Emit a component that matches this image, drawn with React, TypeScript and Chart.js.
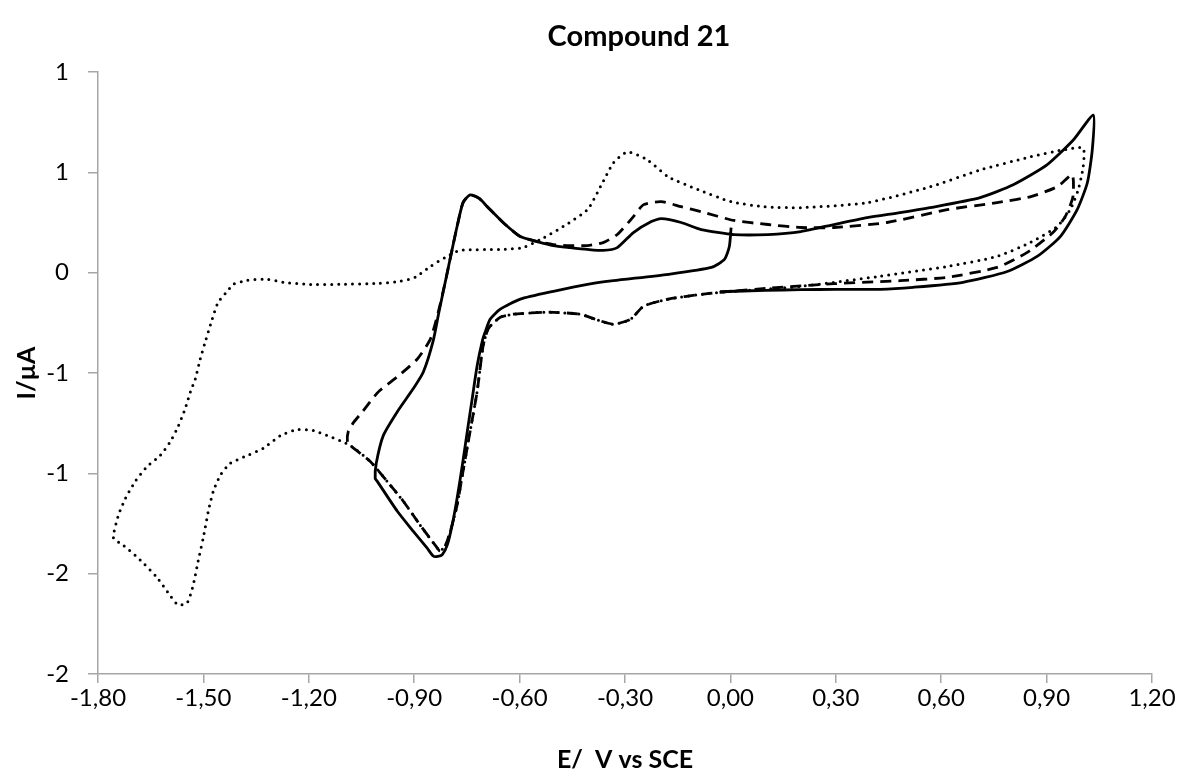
import React, { useEffect, useRef } from 'react';
import { Chart, registerables } from 'chart.js';

Chart.register(...registerables);

const TITLE = 'Compound 21';
const X_TITLE = 'E/  V vs SCE';
const Y_TITLE = 'I/µA';

const X_TICKS = [-1.8, -1.5, -1.2, -0.9, -0.6, -0.3, 0, 0.3, 0.6, 0.9, 1.2];
const Y_TICKS = [-2, -1.5, -1, -0.5, 0, 0.5, 1];
const Y_LABELS = ['-2', '-2', '-1', '-1', '0', '1', '1'];

const solidE = [0.002, -0.003, -0.017, -0.054, -0.177, -0.333, -0.407, -0.504, -0.598, -0.655, -0.684, -0.698, -0.706, -0.721, -0.735, -0.749, -0.763, -0.778, -0.792, -0.806, -0.820, -0.833, -0.846, -0.863, -0.903, -0.948, -1.005, -1.011, -1.008, -0.988, -0.948, -0.903, -0.874, -0.846, -0.830, -0.812, -0.792, -0.778, -0.761, -0.741, -0.715, -0.692, -0.647, -0.598, -0.550, -0.504, -0.456, -0.407, -0.362, -0.322, -0.276, -0.225, -0.197, -0.140, -0.083, 0.010, 0.107, 0.201, 0.295, 0.389, 0.483, 0.568, 0.711, 0.805, 0.901, 0.976, 1.033, 1.030, 1.016, 0.987, 0.939, 0.873, 0.788, 0.662, 0.520, 0.426, 0.300, 0.200, 0.100, -0.030];
const solidI = [0.225, 0.130, 0.066, 0.026, -0.008, -0.040, -0.058, -0.093, -0.132, -0.182, -0.232, -0.296, -0.340, -0.465, -0.629, -0.792, -0.960, -1.125, -1.258, -1.358, -1.405, -1.414, -1.412, -1.373, -1.288, -1.189, -1.040, -1.025, -0.950, -0.812, -0.693, -0.579, -0.495, -0.340, -0.200, -0.050, 0.116, 0.230, 0.349, 0.388, 0.370, 0.329, 0.250, 0.180, 0.155, 0.135, 0.125, 0.116, 0.111, 0.125, 0.200, 0.255, 0.269, 0.250, 0.215, 0.190, 0.190, 0.205, 0.240, 0.274, 0.299, 0.324, 0.374, 0.438, 0.537, 0.661, 0.785, 0.612, 0.448, 0.314, 0.180, 0.081, 0.006, -0.048, -0.073, -0.083, -0.083, -0.085, -0.088, -0.095];

const dashedE = [0.000, -0.083, -0.177, -0.247, -0.284, -0.333, -0.380, -0.427, -0.521, -0.618, -0.655, -0.684, -0.692, -0.704, -0.721, -0.741, -0.761, -0.778, -0.797, -0.812, -0.826, -0.834, -0.883, -0.931, -0.977, -1.025, -1.082, -1.090, -1.088, -1.072, -1.048, -1.002, -0.948, -0.891, -0.854, -0.832, -0.812, -0.792, -0.778, -0.761, -0.741, -0.715, -0.692, -0.647, -0.598, -0.550, -0.504, -0.456, -0.407, -0.362, -0.322, -0.276, -0.247, -0.197, -0.140, -0.083, 0.010, 0.107, 0.201, 0.295, 0.446, 0.617, 0.759, 0.853, 0.930, 0.973, 0.975, 0.953, 0.918, 0.845, 0.759, 0.617, 0.483, 0.295, 0.107, 0.000];
const dashedI = [-0.093, -0.108, -0.132, -0.167, -0.232, -0.257, -0.235, -0.207, -0.197, -0.207, -0.222, -0.267, -0.290, -0.366, -0.594, -0.792, -0.990, -1.159, -1.288, -1.363, -1.387, -1.373, -1.258, -1.139, -1.040, -0.941, -0.861, -0.845, -0.794, -0.745, -0.695, -0.594, -0.519, -0.430, -0.331, -0.200, -0.050, 0.116, 0.230, 0.349, 0.388, 0.370, 0.329, 0.250, 0.180, 0.155, 0.140, 0.135, 0.135, 0.150, 0.190, 0.279, 0.339, 0.354, 0.329, 0.304, 0.260, 0.240, 0.225, 0.225, 0.250, 0.314, 0.349, 0.378, 0.428, 0.488, 0.378, 0.279, 0.200, 0.101, 0.026, -0.023, -0.040, -0.055, -0.078, -0.093];

const dottedE = [0.000, -0.083, -0.177, -0.247, -0.284, -0.333, -0.380, -0.427, -0.521, -0.618, -0.655, -0.684, -0.692, -0.704, -0.721, -0.741, -0.761, -0.778, -0.797, -0.812, -0.826, -0.834, -0.883, -0.931, -0.977, -1.025, -1.082, -1.111, -1.139, -1.187, -1.233, -1.281, -1.330, -1.375, -1.424, -1.452, -1.472, -1.486, -1.500, -1.515, -1.529, -1.546, -1.572, -1.594, -1.631, -1.680, -1.728, -1.756, -1.742, -1.722, -1.694, -1.660, -1.623, -1.594, -1.572, -1.552, -1.537, -1.523, -1.509, -1.495, -1.475, -1.458, -1.432, -1.415, -1.375, -1.318, -1.273, -1.204, -1.111, -1.000, -0.940, -0.897, -0.854, -0.812, -0.769, -0.655, -0.590, -0.541, -0.476, -0.407, -0.370, -0.333, -0.293, -0.236, -0.177, -0.091, 0.002, 0.095, 0.201, 0.389, 0.568, 0.711, 0.853, 0.947, 1.004, 1.004, 0.990, 0.967, 0.930, 0.853, 0.759, 0.617, 0.426, 0.201, 0.010];
const dottedI = [-0.093, -0.108, -0.132, -0.167, -0.232, -0.257, -0.235, -0.207, -0.197, -0.207, -0.222, -0.267, -0.290, -0.366, -0.594, -0.792, -0.990, -1.159, -1.288, -1.363, -1.387, -1.373, -1.258, -1.139, -1.040, -0.941, -0.861, -0.837, -0.817, -0.787, -0.782, -0.812, -0.876, -0.911, -0.951, -1.010, -1.090, -1.189, -1.318, -1.437, -1.556, -1.645, -1.656, -1.611, -1.521, -1.432, -1.358, -1.323, -1.209, -1.125, -1.040, -0.965, -0.911, -0.841, -0.767, -0.678, -0.594, -0.529, -0.430, -0.346, -0.232, -0.147, -0.093, -0.058, -0.038, -0.033, -0.048, -0.058, -0.058, -0.053, -0.043, -0.023, 0.031, 0.076, 0.111, 0.116, 0.125, 0.165, 0.230, 0.314, 0.428, 0.547, 0.602, 0.562, 0.478, 0.413, 0.354, 0.329, 0.324, 0.349, 0.428, 0.512, 0.577, 0.612, 0.621, 0.527, 0.413, 0.314, 0.230, 0.150, 0.081, 0.031, -0.018, -0.068, -0.093];

const toPoints = (xs: number[], ys: number[]) => xs.map((x, i) => ({ x, y: ys[i] }));

const FONT = 'Lato';

const textPlugin = {
  id: 'cvTexts',
  afterDraw(chart: any) {
    const { ctx, chartArea } = chart;
    ctx.save();
    ctx.fillStyle = '#000';
    ctx.textAlign = 'center';
    ctx.textBaseline = 'middle';
    ctx.font = `bold 29px ${FONT}`;
    ctx.fillText(TITLE, 639, 37);
    ctx.font = `bold 25px ${FONT}`;
    ctx.fillText(X_TITLE, (chartArea.left + chartArea.right) / 2, 760);
    ctx.translate(27, (chartArea.top + chartArea.bottom) / 2);
    ctx.rotate(-Math.PI / 2);
    ctx.fillText(Y_TITLE, 0, 0);
    ctx.restore();
  },
};

export default function App() {
  const ref = useRef<HTMLCanvasElement>(null);
  useEffect(() => {
    const axisColor = '#a6a6a6';
    const chart = new Chart(ref.current!, {
      type: 'scatter',
      data: {
        datasets: [
          {
            label: 'dotted',
            data: toPoints(dottedE, dottedI),
            showLine: true,
            borderColor: '#000',
            borderWidth: 3,
            borderDash: [0, 7],
            borderCapStyle: 'round',
            pointRadius: 0,
            tension: 0.2,
          },
          {
            label: 'dashed',
            data: toPoints(dashedE, dashedI),
            showLine: true,
            borderColor: '#000',
            borderWidth: 2.8,
            borderDash: [11, 7],
            pointRadius: 0,
            tension: 0.2,
          },
          {
            label: 'solid',
            data: toPoints(solidE, solidI),
            showLine: true,
            borderColor: '#000',
            borderWidth: 2.8,
            pointRadius: 0,
            tension: 0.2,
          },
        ],
      },
      options: {
        animation: false,
        responsive: true,
        maintainAspectRatio: false,
        layout: { padding: { top: 72, right: 32, left: 0, bottom: 0 } },
        plugins: { legend: { display: false }, title: { display: false }, tooltip: { enabled: false } },
        scales: {
          x: {
            type: 'linear',
            min: -1.8,
            max: 1.2,
            afterBuildTicks: (s: any) => { s.ticks = X_TICKS.map((v) => ({ value: v })); },
            afterFit: (s: any) => { s.height = 107; },
            ticks: {
              autoSkip: false,
              maxRotation: 0,
              padding: 3,
              color: '#000',
              font: { family: FONT, size: 24, lineHeight: 1 },
              callback: (v: any) => Number(v).toFixed(2).replace('.', ','),
            },
            grid: { display: true, drawOnChartArea: false, drawTicks: true, tickLength: 9, color: axisColor, lineWidth: 1.5 },
            border: { display: true, color: axisColor, width: 1.5 },
          },
          y: {
            type: 'linear',
            min: -2,
            max: 1,
            afterBuildTicks: (s: any) => { s.ticks = Y_TICKS.map((v) => ({ value: v })); },
            afterFit: (s: any) => { s.width = 98; },
            ticks: {
              autoSkip: false,
              padding: 19,
              color: '#000',
              font: { family: FONT, size: 24 },
              callback: (v: any) => Y_LABELS[Y_TICKS.indexOf(Number(v))] ?? '',
            },
            grid: { display: true, drawOnChartArea: false, drawTicks: true, tickLength: 10, color: axisColor, lineWidth: 1.5 },
            border: { display: true, color: axisColor, width: 1.5 },
          },
        },
      },
      plugins: [textPlugin],
    } as any);
    return () => chart.destroy();
  }, []);
  return (
    <div style={{ position: 'absolute', left: 0, top: 0, width: 1184, height: 781, background: '#fff' }}>
      <canvas ref={ref} />
    </div>
  );
}
